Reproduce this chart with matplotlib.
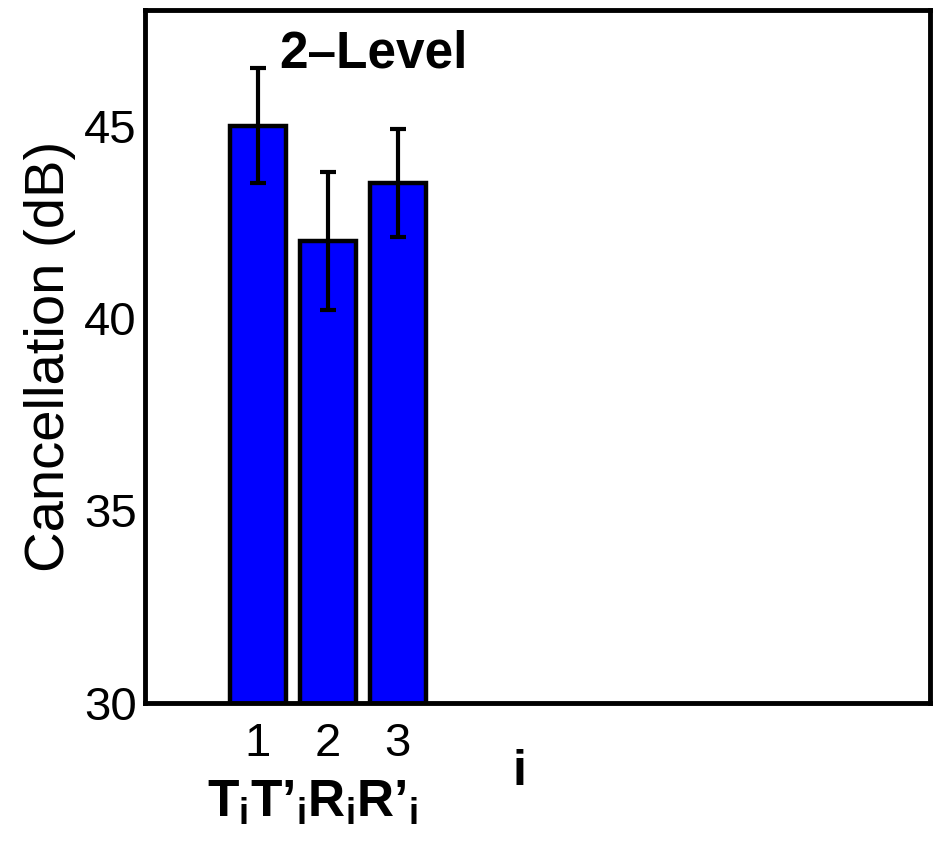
import numpy as np
import matplotlib
matplotlib.use("Agg")
import matplotlib.pyplot as plt

plt.rcParams['font.family'] = ['Liberation Sans', 'DejaVu Sans']
plt.rcParams['mathtext.fontset'] = 'custom'
plt.rcParams['mathtext.rm'] = 'Liberation Sans'
plt.rcParams['mathtext.bf'] = 'Liberation Sans:bold'
plt.rcParams['mathtext.it'] = 'Liberation Sans:italic'

# data
positions = [1, 2, 3]
tick_labels = ["1", "2", "3"]
cancellation = [45.0, 42.0, 43.5]
errors = [1.5, 1.8, 1.4]

fig = plt.figure(figsize=(9.33, 8.41), dpi=100)
ax = fig.add_axes([0.1554, 0.1641, 0.8414, 0.824])

ax.bar(positions, cancellation, width=0.8, bottom=0, color="#0000ff",
       edgecolor="black", linewidth=3.2, zorder=2)
ax.errorbar(positions, cancellation, yerr=errors, fmt="none", ecolor="black",
            elinewidth=3, capsize=6, capthick=3, zorder=3)

ax.set_ylim(30, 48)
ax.set_xlim(-0.61, 10.6)
ax.set_yticks([30, 35, 40, 45])
ax.set_xticks(positions)
ax.set_xticklabels(tick_labels)
ax.tick_params(axis="both", length=0, labelsize=34)
ax.tick_params(axis="y", pad=6)
ax.tick_params(axis="x", pad=14)
for s in ax.spines.values():
    s.set_linewidth(3.5)

ax.set_ylabel("Cancellation (dB)", fontsize=40.5, labelpad=6)

ax.text(1.31, 46.85, "2\u2013Level", fontsize=37, fontweight="bold",
        ha="left", va="center")

# subscript labels under ticks
sub_label = "$\\mathbf{T_i T\u2019_i R_i R\u2019_i}$"
ax.text(1.79, -0.164, sub_label, transform=ax.get_xaxis_transform(),
        fontsize=37, ha="center", va="baseline", clip_on=False)
ax.text(4.73, -0.0996, "i", transform=ax.get_xaxis_transform(), fontsize=36,
        fontweight="bold", ha="center", va="center", clip_on=False)

fig.savefig("out.png", dpi=100)
